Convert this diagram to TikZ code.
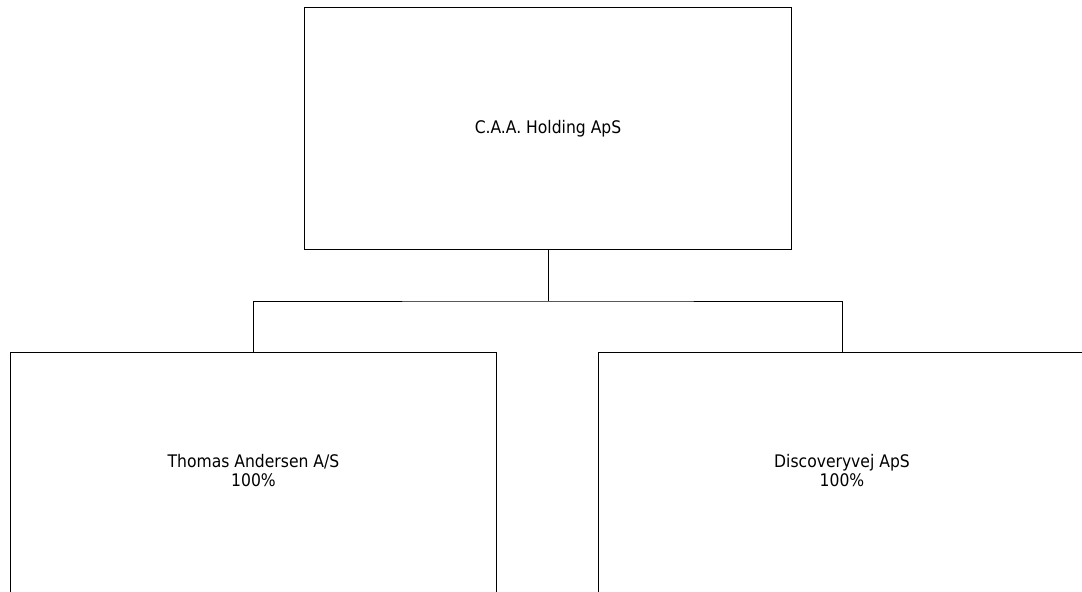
\documentclass[tikz,border=0pt]{standalone}
\usepackage{fontspec}
\setmainfont{DejaVu Sans Condensed}
\newcommand{\boxtext}[1]{\raisebox{3pt}{\begin{tabular}{@{}c@{}}#1\end{tabular}}}
\begin{document}
\begin{tikzpicture}[x=0.75pt,y=-0.75pt,
  orgbox/.style={draw=black,line width=0.75pt,rectangle,minimum width=487*0.75pt,minimum height=242*0.75pt,inner sep=0pt,align=center,font=\fontsize{13pt}{13.5pt}\selectfont},
  link/.style={draw=black,line width=0.75pt}]
\useasboundingbox (0,0) rectangle (1082,592);
\node[orgbox] (top) at (548,128.5) {C.A.A. Holding ApS};
\node[orgbox,minimum width=485.5*0.75pt] (left) at (253.5,473) {\boxtext{Thomas Andersen A/S\\100\%}};
\node[orgbox,minimum width=488*0.75pt] (right) at (842,473) {\boxtext{Discoveryvej ApS\\100\%}};
\coordinate (j) at (548,301);
\draw[link] (top.south) -- (j);
\draw[link] (left.north) |- (j) -| (right.north);
\end{tikzpicture}
\end{document}
